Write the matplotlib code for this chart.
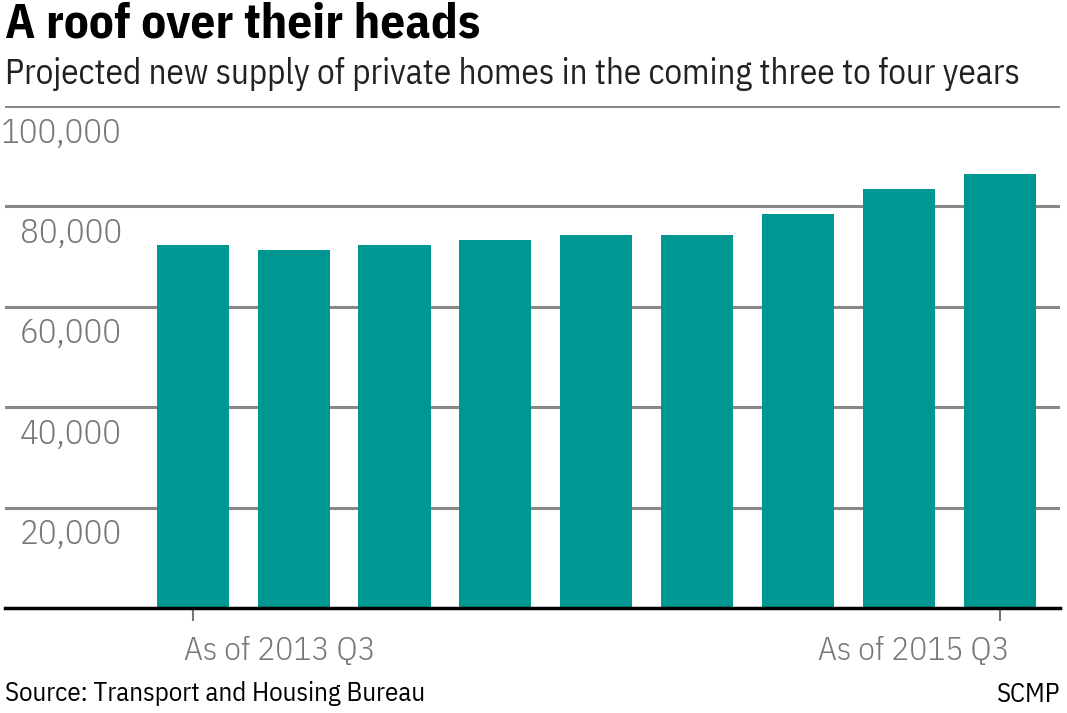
import matplotlib
matplotlib.use("Agg")
import matplotlib.pyplot as plt
from matplotlib.transforms import ScaledTranslation

# ---- data ----
categories = ["2013 Q3", "2013 Q4", "2014 Q1", "2014 Q2", "2014 Q3",
              "2014 Q4", "2015 Q1", "2015 Q2", "2015 Q3"]
supply = [72400, 71400, 72400, 73400, 74400, 74400, 78400, 83400, 86400]
ytick_values = [20000, 40000, 60000, 80000, 100000]
ytick_labels = ["20,000", "40,000", "60,000", "80,000", "100,000"]
xtick_positions = [0, 8]
xtick_labels = ["As of 2013 Q3", "As of 2015 Q3"]

title = "A roof over their heads"
subtitle = "Projected new supply of private homes in the coming three to four years"
source = "Source: Transport and Housing Bureau"
credit = "SCMP"

FAM = ["IBM Plex Sans Condensed", "DejaVu Sans"]

W, H = 1067, 713
fig = plt.figure(figsize=(W / 100, H / 100), dpi=100)
fig.patch.set_facecolor("white")

left_px, right_px, top_px, bottom_px = 5, 1060, 106, 608
ax = fig.add_axes([left_px / W, 1 - bottom_px / H,
                   (right_px - left_px) / W, (bottom_px - top_px) / H])

x = list(range(len(categories)))
ax.bar(x, supply, width=0.715, color="#009792", zorder=2)

ax.set_ylim(0, 100000)
ax.set_xlim(-1.86, 8.595)

for s in ["top", "right", "left"]:
    ax.spines[s].set_visible(False)
ax.spines["bottom"].set_color("black")
ax.spines["bottom"].set_linewidth(2.5)
ax.spines["bottom"].set_zorder(3)

ax.set_yticks(ytick_values)
ax.set_yticklabels(ytick_labels)
ax.yaxis.grid(True, color="#888888", linewidth=2.2, zorder=1)
ax.tick_params(axis="y", length=0, pad=0, labelsize=25, labelcolor="#777777")
for lab in ax.get_yticklabels():
    lab.set_fontfamily(FAM)
    lab.set_fontweight(300)
    lab.set_horizontalalignment("right")
    lab.set_transform(lab.get_transform() +
                      ScaledTranslation(117 / 100, -24 / 100, fig.dpi_scale_trans))

ax.set_xticks(xtick_positions)
ax.set_xticklabels(xtick_labels)
ax.tick_params(axis="x", length=9, width=1.5, color="#777777", pad=11,
               labelsize=24, labelcolor="#777777")
xl = ax.get_xticklabels()
xl[0].set_horizontalalignment("left")
xl[0].set_transform(xl[0].get_transform() +
                    ScaledTranslation(-9 / 100, 0, fig.dpi_scale_trans))
xl[1].set_horizontalalignment("right")
xl[1].set_transform(xl[1].get_transform() +
                    ScaledTranslation(10 / 100, 0, fig.dpi_scale_trans))
for lab in xl:
    lab.set_fontfamily(FAM)
    lab.set_fontweight(300)

fig.text(5 / W, 1 - 25 / H, title, fontsize=35.5, fontweight="bold",
         family=FAM, color="black", va="center", ha="left")
fig.text(5 / W, 1 - 74 / H, subtitle, fontsize=25.2,
         family=FAM, color="#222222", va="center", ha="left")
fig.text(5 / W, 1 - 694 / H, source, fontsize=19.4,
         family=FAM, color="black", va="center", ha="left")
fig.text(1060 / W, 1 - 694 / H, credit, fontsize=19.4,
         family=FAM, color="black", va="center", ha="right")

fig.savefig("out.png", dpi=100, facecolor="white")
